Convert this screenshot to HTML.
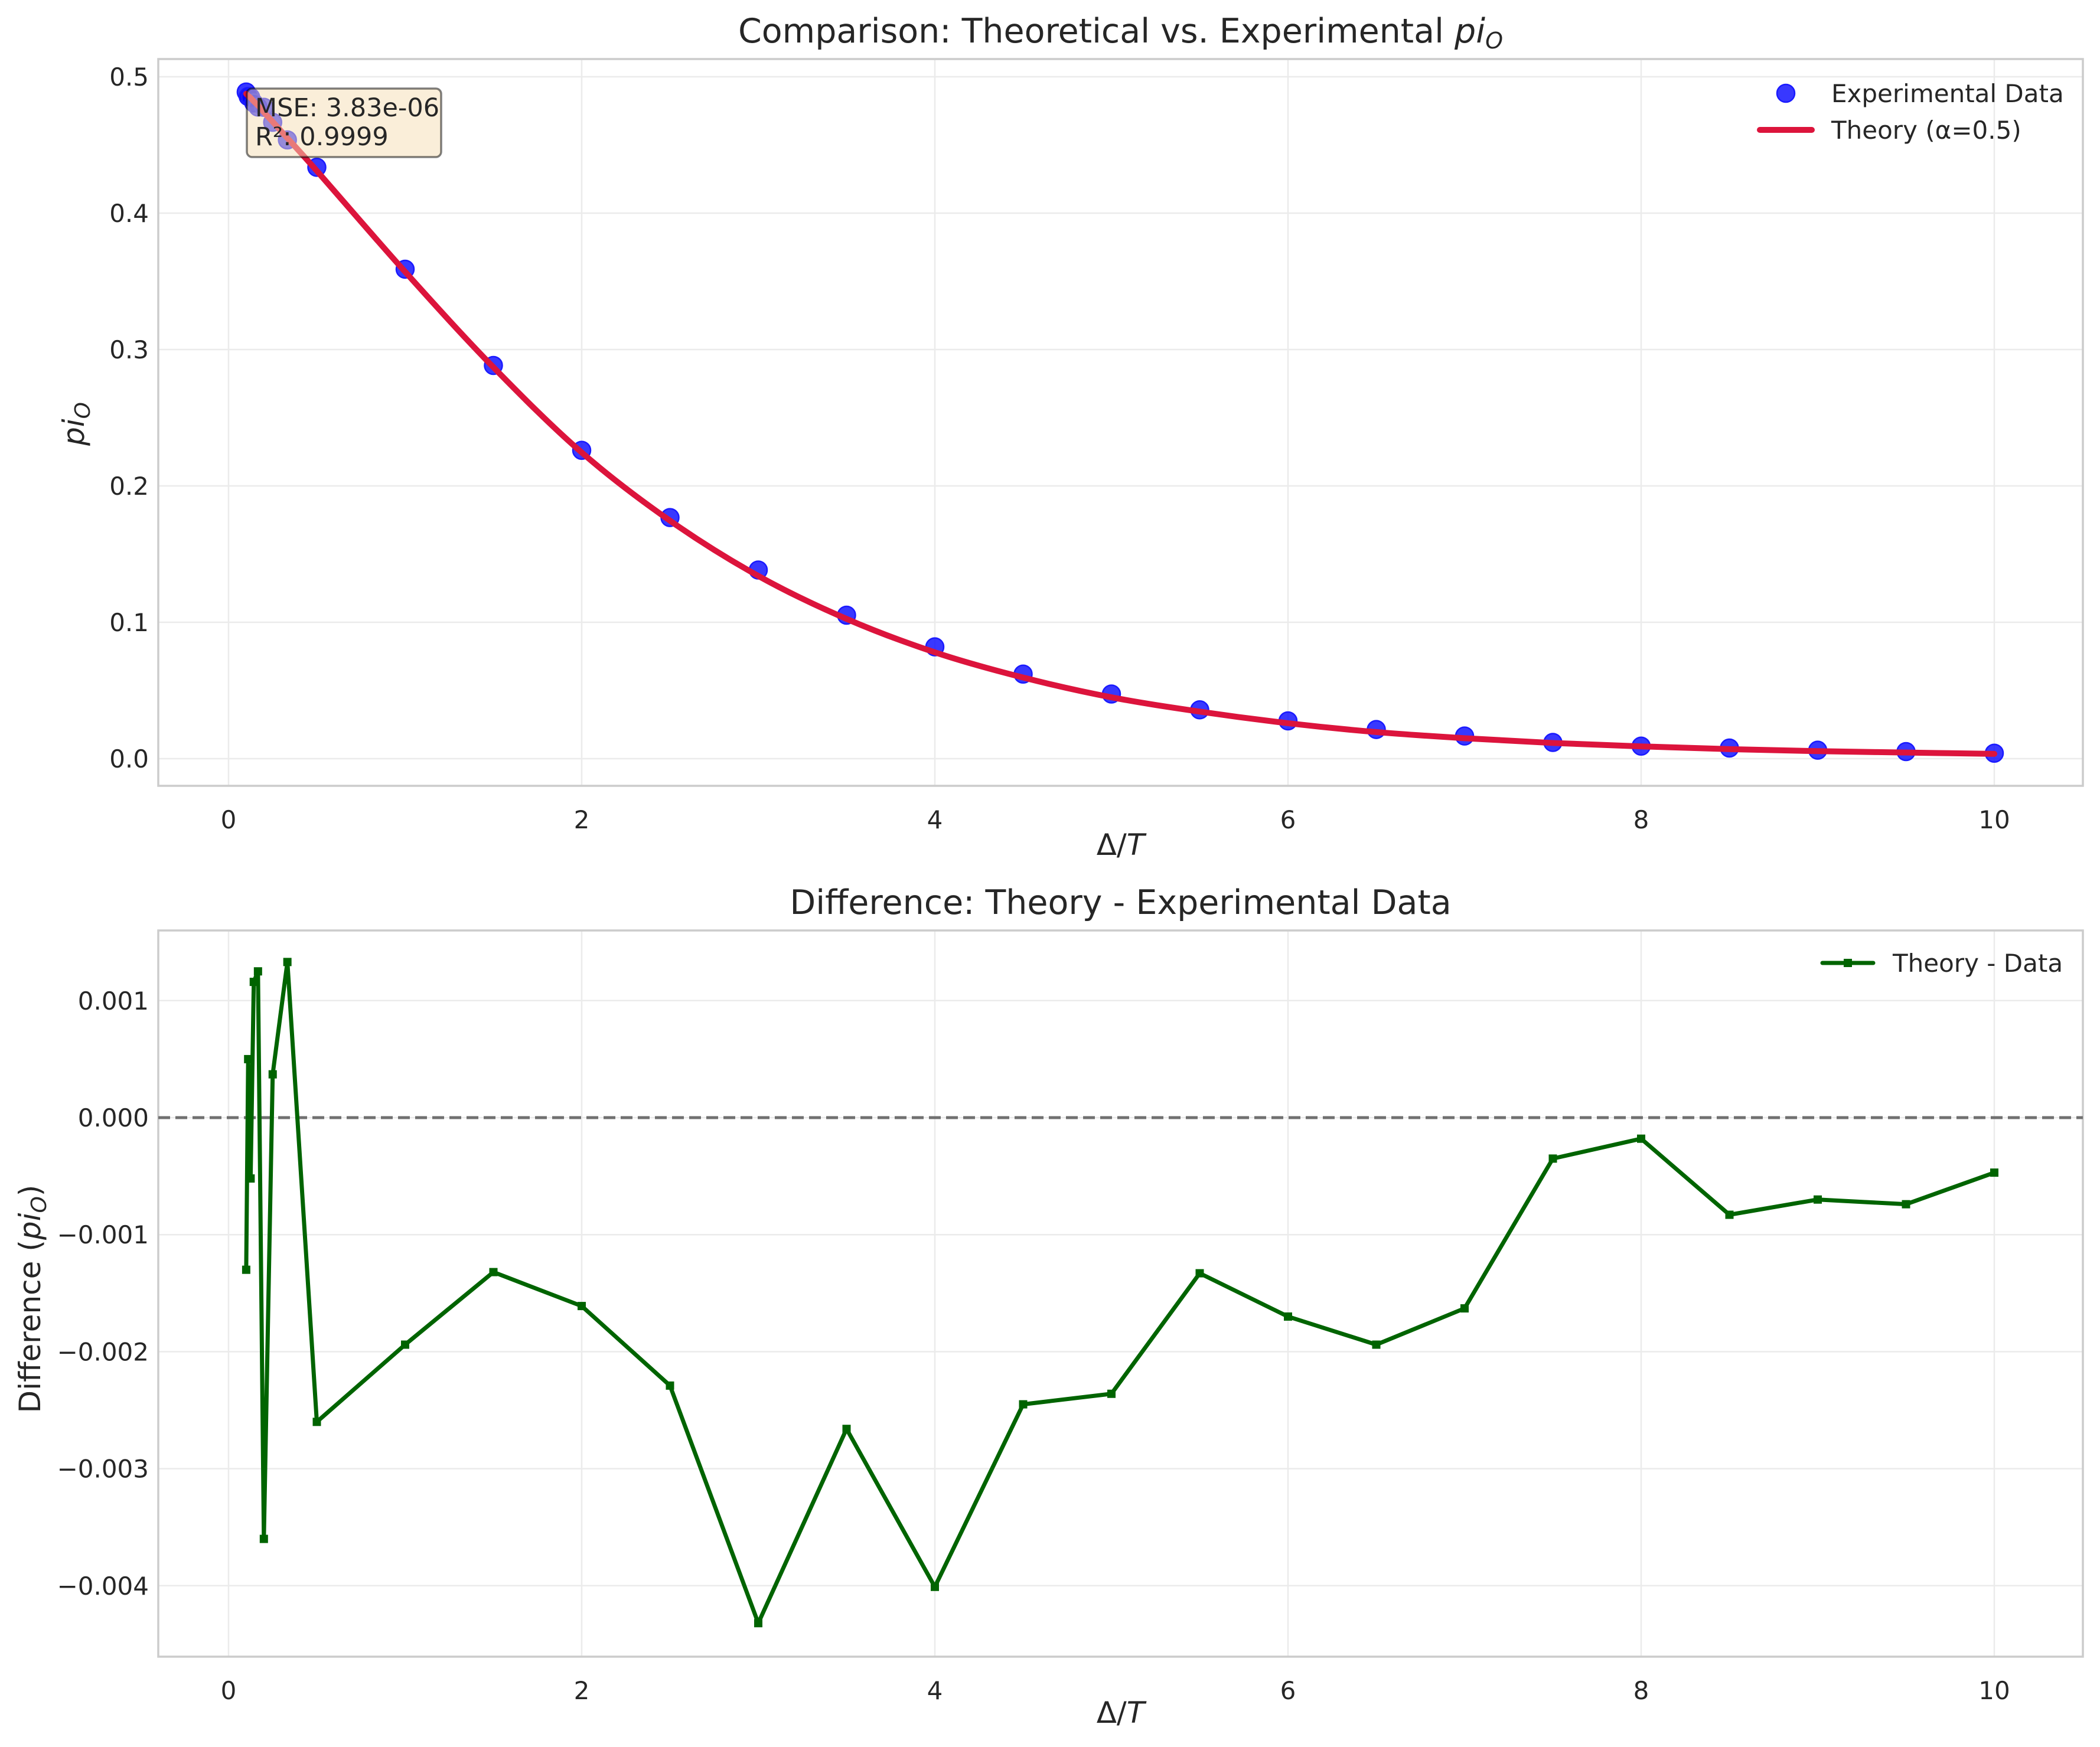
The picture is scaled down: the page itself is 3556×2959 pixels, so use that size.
<!DOCTYPE html>
<html><head><meta charset="utf-8"><style>
html,body{margin:0;padding:0;background:#fff}
svg{display:block;font-family:"DejaVu Sans","Liberation Sans",sans-serif}
</style></head><body>
<svg id="fig" width="3556" height="2959" viewBox="0 0 3556 2959">
<rect width="3556" height="2959" fill="#fff"/>
<g id="top"></g>
<g id="bot"></g>
</svg>
<script>
const xs = [0.1,0.1111,0.125,0.1429,0.1667,0.2,0.25,0.3333,0.5,1,1.5,2,2.5,3,3.5,4,4.5,5,5.5,6,6.5,7,7.5,8,8.5,9,9.5,10];
const theory = [0.4875,0.486,0.4845,0.482,0.479,0.474,0.467,0.455,0.431,0.357,0.287,0.2245,0.1745,0.134,0.1025,0.078,0.0595,0.045,0.0345,0.026,0.0195,0.015,0.0115,0.009,0.007,0.0055,0.0045,0.0035];
const experimental = [0.4888,0.4855,0.485,0.4808,0.4778,0.4776,0.4666,0.4537,0.4336,0.3589,0.2883,0.2261,0.1768,0.1383,0.1052,0.082,0.062,0.0474,0.0358,0.0277,0.0214,0.0166,0.0119,0.0092,0.0078,0.0062,0.0052,0.004];
const diff = [-0.0013,0.0005,-0.00052,0.00116,0.00125,-0.0036,0.00037,0.00133,-0.0026,-0.00194,-0.00132,-0.00161,-0.00229,-0.00432,-0.00266,-0.00401,-0.00245,-0.00236,-0.00133,-0.0017,-0.00194,-0.00163,-0.00035,-0.00018,-0.00083,-0.0007,-0.00074,-0.00047];
const xTicks = [0,2,4,6,8,10];
const yTicksTop = [0,0.1,0.2,0.3,0.4,0.5];
const yTickLabelsTop = ["0.0","0.1","0.2","0.3","0.4","0.5"];
const yTicksBot = [0.001,0,-0.001,-0.002,-0.003,-0.004];
const yTickLabelsBot = ["0.001","0.000","\u22120.001","\u22120.002","\u22120.003","\u22120.004"];

const NS="http://www.w3.org/2000/svg";
function mk(parent,tag,attrs,text){const e=document.createElementNS(NS,tag);for(const k in attrs)e.setAttribute(k,attrs[k]);if(text!==undefined)e.textContent=text;parent.appendChild(e);return e;}
const L=268,R=3527;
const px=x=>387+299*x;
const pyT=v=>1285-v*2310;
const pyB=d=>1893-d*198200;

function axes(g,top,bottom,yt,ytl,py,title,ylabel,xlabY){
  for(const t of xTicks){const l=mk(g,'line',{x1:px(t),x2:px(t),y1:top,y2:bottom,stroke:'#ebebeb','stroke-width':2.5});
    
    }
  yt.forEach((t,i)=>{const l=mk(g,'line',{x1:L,x2:R,y1:py(t),y2:py(t),stroke:'#ebebeb','stroke-width':2.5});
    
    
    const tx=mk(g,'text',{x:252,y:py(t)+15,'text-anchor':'end','font-size':42,fill:'#262626'},ytl[i]);
    
    });
  for(const t of xTicks){const tx=mk(g,'text',{x:px(t),y:bottom+72,'text-anchor':'middle','font-size':42,fill:'#262626'},String(t));
    
    }
  const fr=mk(g,'rect',{x:L,y:top,width:R-L,height:bottom-top,fill:'none',stroke:'#cccccc','stroke-width':3.5});
  
  
  const ti=mk(g,'text',{x:(L+R)/2,y:top-28,'text-anchor':'middle','font-size':57,fill:'#262626'});
  ti.innerHTML=title;
  
  
  const xl=mk(g,'text',{x:(L+R)/2,y:xlabY,'text-anchor':'middle','font-size':50,fill:'#262626'});
  xl.innerHTML='Δ/<tspan font-style="italic">T</tspan>';
  
  
  const yl=mk(g,'text',{'text-anchor':'middle','font-size':50,fill:'#262626',transform:ylabel.t});
  yl.innerHTML=ylabel.h;
  
  
}

const gt=document.getElementById('top');
axes(gt,100,1331,yTicksTop,yTickLabelsTop,pyT,'Comparison: Theoretical vs. Experimental <tspan font-style="italic">pi</tspan><tspan font-style="italic" font-size="38" dy="10">O</tspan>',
  {t:'translate(142,718) rotate(-90)',h:'<tspan font-style="italic">pi</tspan><tspan font-style="italic" font-size="36" dy="10">O</tspan>'},1448);
xs.forEach((x,i)=>{const c=mk(gt,'circle',{cx:px(x),cy:pyT(experimental[i]),r:15,fill:'rgba(0,0,255,0.78)',stroke:'#1a1aff','stroke-width':2.5});
  
  });
{const P=xs.map((x,i)=>[px(x),pyT(theory[i])]);let d='M'+P[0][0]+','+P[0][1];
 for(let i=0;i<P.length-1;i++){const p0=P[Math.max(0,i-1)],p1=P[i],p2=P[i+1],p3=P[Math.min(P.length-1,i+2)];
  d+=` C${p1[0]+(p2[0]-p0[0])/6},${p1[1]+(p2[1]-p0[1])/6} ${p2[0]-(p3[0]-p1[0])/6},${p2[1]-(p3[1]-p1[1])/6} ${p2[0]},${p2[1]}`;}
 const pth=mk(gt,'path',{d:d,fill:'none',stroke:'#dc143c','stroke-width':10,'stroke-linecap':'round','stroke-linejoin':'round'});
 
 }
{const b=mk(gt,'rect',{x:418,y:150,width:329,height:116,rx:9,fill:'rgba(245,222,179,0.5)',stroke:'rgba(0,0,0,0.5)','stroke-width':3.5});
 
 
 const t1=mk(gt,'text',{x:432,y:197,'font-size':43,fill:'#262626'},'MSE: 3.83e-06');
 
 
 const t2=mk(gt,'text',{x:432,y:246,'font-size':43,fill:'#262626'},'R²: 0.9999');
 
 }
{const lg=mk(gt,'g',{});
 
 
 const c=mk(lg,'circle',{cx:3024,cy:158,r:15,fill:'rgba(0,0,255,0.78)',stroke:'#1a1aff','stroke-width':2.5});
 
 
 const t=mk(lg,'text',{x:3101,y:173,'font-size':42,fill:'#262626'},'Experimental Data');
 
 
 const l=mk(lg,'line',{x1:2980,x2:3068,y1:220,y2:220,stroke:'#dc143c','stroke-width':10,'stroke-linecap':'round'});
 
 
 const t2=mk(lg,'text',{x:3101,y:235,'font-size':42,fill:'#262626'},'Theory (α=0.5)');
 
 }

const gb=document.getElementById('bot');
axes(gb,1576,2806,yTicksBot,yTickLabelsBot,pyB,'Difference: Theory - Experimental Data',
  {t:'translate(68,2200) rotate(-90)',h:'Difference (<tspan font-style="italic">pi</tspan><tspan font-style="italic" font-size="36" dy="10">O</tspan><tspan dy="-10">)</tspan>'},2918);
{const z=mk(gb,'line',{x1:L,x2:R,y1:pyB(0),y2:pyB(0),stroke:'#707070','stroke-width':5,'stroke-dasharray':'20,9'});
 
 
 const pl=mk(gb,'polyline',{points:xs.map((x,i)=>px(x)+','+pyB(diff[i])).join(' '),fill:'none',stroke:'#006400','stroke-width':7,'stroke-linejoin':'round'});
 
 
 xs.forEach((x,i)=>{const s=mk(gb,'rect',{x:px(x)-7,y:pyB(diff[i])-7,width:14,height:14,fill:'#006400'});
   
   });
 const lg=mk(gb,'g',{});
 
 
 const l=mk(lg,'line',{x1:3086,x2:3172,y1:1631,y2:1631,stroke:'#006400','stroke-width':7,'stroke-linecap':'round'});
 
 
 const s=mk(lg,'rect',{x:3122,y:1624,width:14,height:14,fill:'#006400'});
 
 
 const t=mk(lg,'text',{x:3205,y:1646,'font-size':42,fill:'#262626'},'Theory - Data');
 
 }
</script>
</body></html>
